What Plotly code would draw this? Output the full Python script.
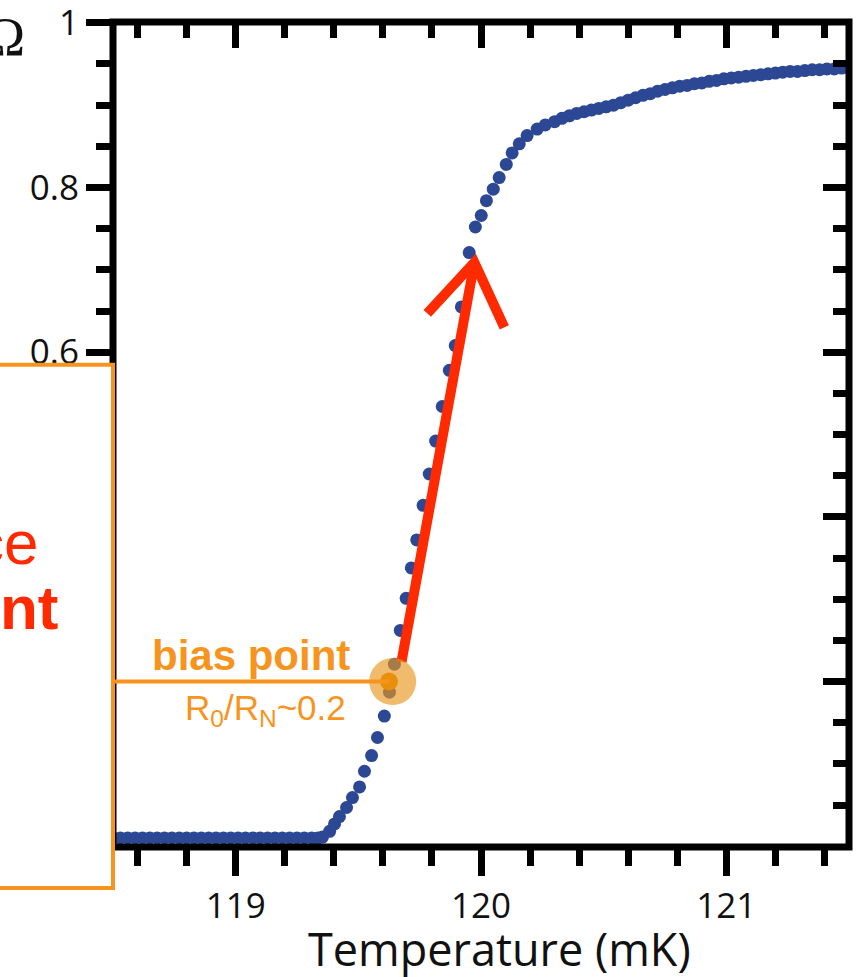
import plotly.graph_objects as go

# Superconducting transition: temperature sweep (mK) vs normalised resistance R/R_N
temp_mk = [
    118.50, 118.53, 118.56, 118.59, 118.62, 118.65, 118.68, 118.71, 118.74, 118.77,
    118.80, 118.83, 118.86, 118.89, 118.92, 118.95, 118.98, 119.01, 119.04, 119.07,
    119.10, 119.13, 119.16, 119.19, 119.22, 119.25, 119.28, 119.31, 119.335,
    119.354, 119.383, 119.403, 119.423, 119.452, 119.476, 119.505, 119.525, 119.554,
    119.578, 119.606, 119.627, 119.647, 119.671, 119.695, 119.716, 119.738, 119.764,
    119.789, 119.815, 119.842, 119.871, 119.895, 119.920, 119.952, 119.977, 120.001,
    120.022, 120.050, 120.074, 120.103, 120.127, 120.156, 120.188, 120.229, 120.262,
    120.30, 120.33, 120.36, 120.39, 120.42, 120.45, 120.48, 120.51, 120.54, 120.57,
    120.60, 120.63, 120.66, 120.69, 120.72, 120.75, 120.78, 120.81, 120.84, 120.87,
    120.90, 120.93, 120.96, 120.99, 121.02, 121.05, 121.08, 121.11, 121.14, 121.17,
    121.20, 121.23, 121.26, 121.29, 121.32, 121.35, 121.38, 121.41, 121.44, 121.47,
    121.50,
]
r_norm = [
    0.010, 0.010, 0.010, 0.010, 0.010, 0.010, 0.010, 0.010, 0.010, 0.010,
    0.010, 0.010, 0.010, 0.010, 0.010, 0.010, 0.010, 0.010, 0.010, 0.010,
    0.010, 0.010, 0.010, 0.010, 0.010, 0.010, 0.010, 0.010, 0.010,
    0.011, 0.018, 0.027, 0.036, 0.047, 0.059, 0.072, 0.091, 0.110,
    0.132, 0.158, 0.187, 0.221, 0.262, 0.301, 0.338, 0.372, 0.414,
    0.452, 0.492, 0.534, 0.578, 0.608, 0.655, 0.721, 0.752, 0.766,
    0.784, 0.798, 0.812, 0.828, 0.842, 0.853, 0.863, 0.871, 0.876,
    0.880, 0.884, 0.887, 0.890, 0.892, 0.894, 0.896, 0.898, 0.900, 0.903,
    0.906, 0.909, 0.912, 0.914, 0.917, 0.919, 0.921, 0.923, 0.924, 0.926,
    0.927, 0.929, 0.930, 0.932, 0.933, 0.934, 0.935, 0.936, 0.937, 0.938,
    0.939, 0.940, 0.941, 0.941, 0.942, 0.943, 0.943, 0.944, 0.944, 0.945,
    0.945,
]

# Operating point on the transition
bias_temp = 119.625
bias_r = 0.20

# Hand-drawn arrow along the steep part of the transition
arrow_shaft_t = [119.676, 119.969]
arrow_shaft_r = [0.224, 0.702]
arrow_head_t = [119.781, 119.973, 120.095]
arrow_head_r = [0.647, 0.709, 0.630]

x_range = [118.5, 121.5]
y_range = [-0.001, 1.001]
x_major = [119, 120, 121]
x_labels = ["119", "120", "121"]
y_major = [0.0, 0.2, 0.4, 0.6, 0.8, 1.0]
y_labels = ["0", "0.2", "0.4", "0.6", "0.8", "1"]

BLUE = "#2C4894"
ORANGE = "#F7941D"
RED = "#FF2A00"
TICK_FONT = dict(family="Open Sans", size=35, color="#111111")

fig = go.Figure()

fig.add_trace(go.Scatter(
    x=temp_mk, y=r_norm, mode="markers",
    marker=dict(size=13, color=BLUE, line=dict(width=0)),
    hoverinfo="skip",
))
fig.add_trace(go.Scatter(
    x=arrow_shaft_t, y=arrow_shaft_r, mode="lines",
    line=dict(color=RED, width=10), hoverinfo="skip",
))
fig.add_trace(go.Scatter(
    x=arrow_head_t, y=arrow_head_r, mode="lines",
    line=dict(color=RED, width=10), hoverinfo="skip",
))
fig.add_trace(go.Scatter(
    x=[bias_temp + 0.015], y=[bias_r], mode="markers",
    marker=dict(size=47, color="rgba(232,150,30,0.65)", line=dict(width=0)),
    hoverinfo="skip",
))
fig.add_trace(go.Scatter(
    x=[bias_temp], y=[bias_r], mode="markers",
    marker=dict(size=18, color="#E8900C", line=dict(width=0)),
    hoverinfo="skip",
))
# carrier trace for the inward-ticked top/right axes
fig.add_trace(go.Scatter(x=[], y=[], xaxis="x2", yaxis="y2", hoverinfo="skip"))

fig.update_layout(
    width=857, height=977,
    margin=dict(l=113, r=8, t=22, b=130, autoexpand=False),
    paper_bgcolor="white", plot_bgcolor="white",
    showlegend=False,
    xaxis=dict(
        range=x_range, showgrid=False, zeroline=False, showline=False,
        tickmode="array", tickvals=x_major, ticktext=x_labels,
        ticks="outside", ticklen=28, tickwidth=7, tickcolor="black",
        minor=dict(dtick=0.2, tick0=119, ticks="outside", ticklen=18,
                   tickwidth=7, tickcolor="black", showgrid=False),
        tickfont=TICK_FONT, ticklabeloverflow="allow", automargin=False,
    ),
    yaxis=dict(
        range=y_range, showgrid=False, zeroline=False, showline=False,
        tickmode="array", tickvals=y_major, ticktext=y_labels,
        ticks="outside", ticklen=26, tickwidth=7, tickcolor="black",
        minor=dict(dtick=0.05, tick0=0, ticks="outside", ticklen=16,
                   tickwidth=7, tickcolor="black", showgrid=False),
        tickfont=TICK_FONT, ticklabeloverflow="allow", automargin=False,
    ),
    xaxis2=dict(
        range=x_range, overlaying="x", side="top", showgrid=False,
        zeroline=False, showline=False, showticklabels=False, automargin=False,
        tickmode="array", tickvals=x_major,
        ticks="inside", ticklen=26, tickwidth=7, tickcolor="black",
        minor=dict(dtick=0.2, tick0=119, ticks="inside", ticklen=16,
                   tickwidth=7, tickcolor="black", showgrid=False),
    ),
    yaxis2=dict(
        range=y_range, overlaying="y", side="right", showgrid=False,
        zeroline=False, showline=False, showticklabels=False, automargin=False,
        tickmode="array", tickvals=y_major,
        ticks="inside", ticklen=26, tickwidth=7, tickcolor="black",
        minor=dict(dtick=0.05, tick0=0, ticks="inside", ticklen=16,
                   tickwidth=7, tickcolor="black", showgrid=False),
    ),
)

# plot frame
fig.add_shape(type="rect", xref="paper", yref="paper", x0=0, x1=1, y0=0, y1=1,
              line=dict(color="black", width=7), layer="above")
# leader line from the callout box to the bias point
fig.add_shape(type="line", xref="x", yref="y", x0=x_range[0], x1=bias_temp,
              y0=bias_r, y1=bias_r, line=dict(color=ORANGE, width=4), layer="above")
# callout box on the left
fig.add_shape(type="rect", xref="paper", yref="paper",
              x0=-0.2, x1=0.0, y0=-0.0497, y1=0.5845,
              line=dict(color=ORANGE, width=4), fillcolor="white", layer="above")

fig.add_annotation(text="<b>bias point</b>", xref="x", yref="y", x=119.473, y=0.2315,
                   xanchor="right", yanchor="middle", showarrow=False,
                   font=dict(family="Liberation Sans", size=42, color=ORANGE))
fig.add_annotation(text="R<sub>0</sub>/R<sub>N</sub>~0.2", xref="x", yref="y",
                   x=119.457, y=0.166, xanchor="right", yanchor="middle", showarrow=False,
                   font=dict(family="Liberation Sans", size=35, color=ORANGE))
fig.add_annotation(text="Ω", xref="paper", yref="paper", x=-0.1168, y=0.982,
                   xanchor="right", yanchor="middle", showarrow=False,
                   font=dict(family="Liberation Serif", size=54, color="#111111"))
fig.add_annotation(text="ce", xref="paper", yref="paper", x=-0.0992, y=0.3685,
                   xanchor="right", yanchor="middle", showarrow=False,
                   font=dict(family="Liberation Sans", size=62, color=RED))
fig.add_annotation(text="<b>nt</b>", xref="paper", yref="paper", x=-0.0707, y=0.2897,
                   xanchor="right", yanchor="middle", showarrow=False,
                   font=dict(family="Liberation Sans", size=62, color=RED))
fig.add_annotation(text="Temperature (mK)", xref="paper", yref="paper",
                   x=0.5245, y=-0.1225, xanchor="center", yanchor="middle",
                   showarrow=False,
                   font=dict(family="Open Sans", size=45, color="#111111"))

fig.write_html("out.html")
